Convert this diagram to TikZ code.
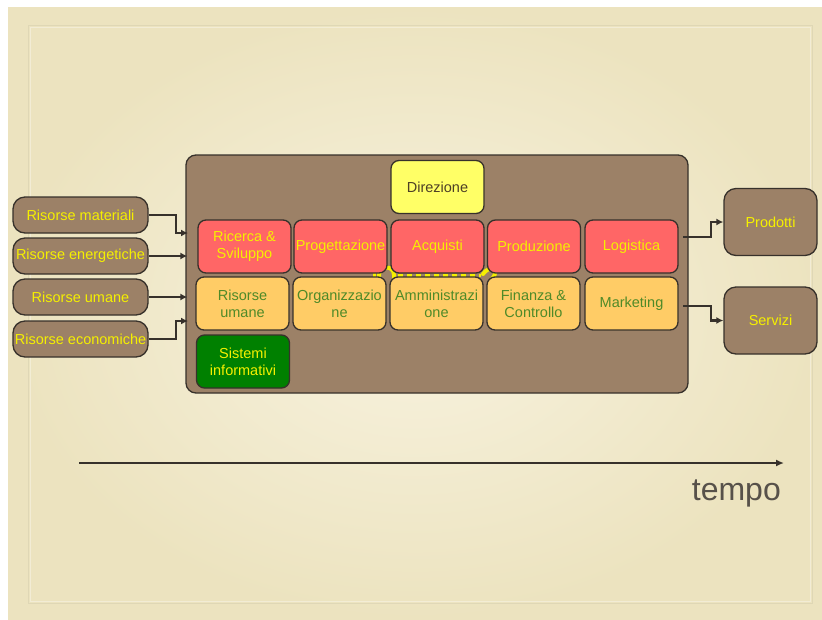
\documentclass[tikz,border=0pt]{standalone}
\usepackage{fontspec}
\setmainfont{Liberation Sans}
\usetikzlibrary{arrows.meta}

\definecolor{paper}{HTML}{F8F3E0}
\definecolor{paperedge}{HTML}{ECE3BF}
\definecolor{mud}{HTML}{9C8167}
\definecolor{ink}{HTML}{37312B}
\definecolor{redbox}{HTML}{FF6666}
\definecolor{orangebox}{HTML}{FFCC66}
\definecolor{lemonbox}{HTML}{FFFF66}
\definecolor{greenbox}{HTML}{008000}
\definecolor{yeltext}{HTML}{F5F000}
\definecolor{olivetext}{HTML}{4F8A28}
\definecolor{browntext}{HTML}{4D3F26}
\definecolor{timetext}{HTML}{57514A}

\tikzset{
  unit/.style={rounded corners=8pt, draw=ink, line width=1.3pt,
    minimum width=93pt, minimum height=53pt, inner sep=1pt, align=center,
    font=\fontsize{14.5}{17}\selectfont},
  redunit/.style={unit, fill=redbox, text=yeltext},
  orangeunit/.style={unit, fill=orangebox, text=olivetext},
  headunit/.style={unit, fill=lemonbox, text=browntext},
  greenunit/.style={unit, fill=greenbox, text=yeltext},
  resource/.style={rounded corners=12pt, draw=ink, line width=1.3pt, fill=mud,
    minimum width=135pt, minimum height=36pt, inner sep=0pt, text=yeltext,
    font=\fontsize{14.5}{17}\selectfont},
  output/.style={rounded corners=12pt, draw=ink, line width=1.3pt, fill=mud,
    minimum width=93pt, minimum height=67pt, inner sep=0pt, text=yeltext,
    font=\fontsize{14.5}{17}\selectfont},
  flow/.style={draw=ink, line width=2.2pt, -{Latex[length=7pt,width=7pt]}},
}

\begin{document}
\begin{tikzpicture}[x=1pt,y=-1pt]
\useasboundingbox (0,0) rectangle (822,619);

% page and parchment
\fill[white] (0,0) rectangle (822,619);
\shade[inner color=paper, outer color=paperedge] (8,7) rectangle (822,619);
\draw[white, opacity=0.35, line width=1pt] (30,27) rectangle (810,601);
\draw[black, opacity=0.05, line width=0.8pt] (28,25) rectangle (812,603);

% enterprise frame
\node[rounded corners=10pt, draw=ink, line width=1.3pt, fill=mud,
  minimum width=502pt, minimum height=238pt] (big) at (437,274) {};

% yellow trace between the two rows
\draw[yeltext, line width=4pt, line cap=round]
  (379,282) -- (379,275) .. controls (379,265) and (394,265) .. (394,275) -- (394,282);
\draw[yeltext, line width=3pt] (374,271) -- (374,282);
\draw[yeltext, line width=2.5pt, dash pattern=on 5pt off 4pt] (398,275.5) -- (481,275.5);
\draw[yeltext, line width=4pt, line cap=round]
  (483,274) .. controls (489,265) and (501,268) .. (492,279);

% units
\node[headunit] (dir) at (437.5,187) {Direzione};

\node[redunit] (rs)  at (244.5,246.5) {Ricerca \&\\Sviluppo};
\node[redunit] (pro) at (340.5,246.5) {Progettazione};
\node[redunit] (acq) at (437.5,246.5) {Acquisti};
\node[redunit] (prd) at (534,246.5)   {Produzione};
\node[redunit] (log) at (631.5,246.5) {Logistica};

\node[orangeunit] (hr)  at (242.5,303.5) {Risorse\\umane};
\node[orangeunit] (org) at (339.5,303.5) {Organizzazio\\ne};
\node[orangeunit] (amm) at (436.5,303.5) {Amministrazi\\one};
\node[orangeunit] (fin) at (533.5,303.5) {Finanza \&\\Controllo};
\node[orangeunit] (mkt) at (631.5,303.5) {Marketing};

\node[greenunit] (sis) at (243,361.5) {Sistemi\\informativi};

% inputs
\node[resource] (rmat) at (80.5,215) {Risorse materiali};
\node[resource] (rene) at (80.5,256) {Risorse energetiche};
\node[resource] (rum)  at (80.5,297) {Risorse umane};
\node[resource] (reco) at (80.5,339) {Risorse economiche};

% outputs
\node[output] (prod) at (770.5,222)   {Prodotti};
\node[output] (serv) at (770.5,320.5) {Servizi};

% connector points
\coordinate (jmat) at (176,233);
\coordinate (inmat) at (188,233);
\coordinate (jeco) at (176,321);
\coordinate (ineco) at (188,321);
\coordinate (outp) at (683,237);
\coordinate (jp) at (711,222);
\coordinate (outs) at (683,306);
\coordinate (js) at (711,320.5);

\draw[flow] (rmat.east) -| (jmat) -- (inmat);
\draw[flow] (rene.east) -- ([xshift=2pt]rene.east -| big.west);
\draw[flow] (rum.east) -- ([xshift=2pt]rum.east -| big.west);
\draw[flow] (reco.east) -| (jeco) -- (ineco);

\draw[flow] (outp) -| (jp) -- (prod.west);
\draw[flow] (outs) -| (js) -- (serv.west);

% time axis
\coordinate (t0) at (79,463);
\coordinate (t1) at (784,463);
\draw[draw=ink, line width=2.2pt, -{Latex[length=8pt,width=7pt]}] (t0) -- (t1);
\node[anchor=base east, text=timetext, font=\fontsize{32}{36}\selectfont, inner sep=0pt]
  (tempo) at (781,500) {tempo};
\end{tikzpicture}
\end{document}
